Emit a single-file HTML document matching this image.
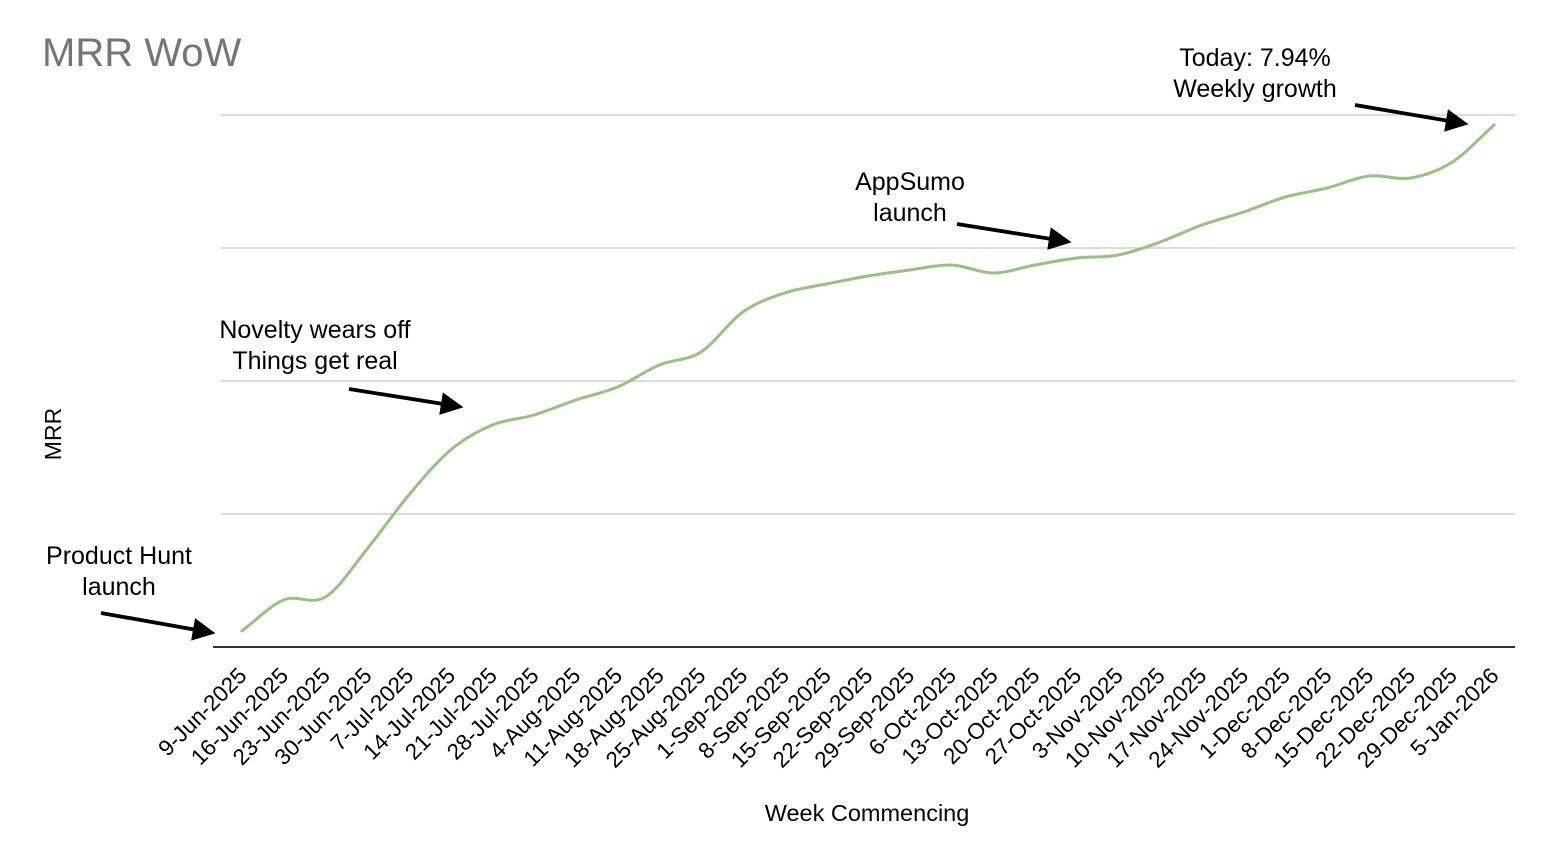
<!DOCTYPE html>
<html><head><meta charset="utf-8"><style>
html,body{margin:0;padding:0;background:#fff;}
svg{display:block;font-family:"Liberation Sans",Arial,sans-serif;}
</style></head><body>
<svg width="1544" height="846" viewBox="0 0 1544 846" xmlns="http://www.w3.org/2000/svg">
<defs><marker id="ah" markerWidth="6" markerHeight="6" refX="4" refY="3" orient="auto" markerUnits="strokeWidth"><path d="M0,0 L6,3 L0,6 z" fill="#000"/></marker></defs>
<text x="42" y="66" font-size="40" fill="#757575">MRR WoW</text>
<g stroke="#c8c8c8" stroke-width="1.3">
<line x1="221" y1="115" x2="1515" y2="115"/>
<line x1="221" y1="248" x2="1515" y2="248"/>
<line x1="221" y1="381" x2="1515" y2="381"/>
<line x1="221" y1="514" x2="1515" y2="514"/>
</g>
<line x1="213" y1="647" x2="1515" y2="647" stroke="#333" stroke-width="2"/>
<path fill="none" stroke="#93c47d" stroke-width="3" stroke-linejoin="round" stroke-linecap="round" d="M241.9,631 C255.8,620.7 269.7,605.7 283.6,600 S311.5,605.5 325.4,597 S353.2,566 367.1,549 S395,511.5 408.9,495 S436.7,461.7 450.6,450 S478.4,430.8 492.3,425 S520.2,419.2 534.1,415 S561.9,404.7 575.8,400 S603.7,392.8 617.6,387 S645.4,370.8 659.3,365 S687.1,360.8 701,352 S728.9,321.8 742.8,312 S770.6,297.7 784.5,293 S812.4,286.8 826.3,284 S854.1,278.3 868,276 S895.8,271.8 909.7,270 S937.6,264.5 951.5,265 S979.3,273 993.2,273 S1021.1,267.5 1035,265 S1062.8,259.7 1076.7,258 S1104.5,257.7 1118.4,255 S1146.3,247 1160.2,242 S1188,230 1201.9,225 S1229.8,216.7 1243.7,212 S1271.5,201 1285.4,197 S1313.2,191.5 1327.1,188 S1355,177.7 1368.9,176 S1396.7,180.3 1410.6,178 S1438.5,170.8 1452.4,162 S1480.2,137.3 1494.1,125"/>
<g font-size="22.5" fill="#000" text-anchor="end">
<text x="248" y="677" transform="rotate(-45 248 677)">9-Jun-2025</text>
<text x="289.6" y="677" transform="rotate(-45 289.6 677)">16-Jun-2025</text>
<text x="331.4" y="677" transform="rotate(-45 331.4 677)">23-Jun-2025</text>
<text x="373.1" y="677" transform="rotate(-45 373.1 677)">30-Jun-2025</text>
<text x="414.9" y="677" transform="rotate(-45 414.9 677)">7-Jul-2025</text>
<text x="456.6" y="677" transform="rotate(-45 456.6 677)">14-Jul-2025</text>
<text x="498.3" y="677" transform="rotate(-45 498.3 677)">21-Jul-2025</text>
<text x="540.1" y="677" transform="rotate(-45 540.1 677)">28-Jul-2025</text>
<text x="581.8" y="677" transform="rotate(-45 581.8 677)">4-Aug-2025</text>
<text x="623.6" y="677" transform="rotate(-45 623.6 677)">11-Aug-2025</text>
<text x="665.3" y="677" transform="rotate(-45 665.3 677)">18-Aug-2025</text>
<text x="707" y="677" transform="rotate(-45 707 677)">25-Aug-2025</text>
<text x="748.8" y="677" transform="rotate(-45 748.8 677)">1-Sep-2025</text>
<text x="790.5" y="677" transform="rotate(-45 790.5 677)">8-Sep-2025</text>
<text x="832.3" y="677" transform="rotate(-45 832.3 677)">15-Sep-2025</text>
<text x="874" y="677" transform="rotate(-45 874 677)">22-Sep-2025</text>
<text x="915.7" y="677" transform="rotate(-45 915.7 677)">29-Sep-2025</text>
<text x="957.5" y="677" transform="rotate(-45 957.5 677)">6-Oct-2025</text>
<text x="999.2" y="677" transform="rotate(-45 999.2 677)">13-Oct-2025</text>
<text x="1041" y="677" transform="rotate(-45 1041 677)">20-Oct-2025</text>
<text x="1082.7" y="677" transform="rotate(-45 1082.7 677)">27-Oct-2025</text>
<text x="1124.4" y="677" transform="rotate(-45 1124.4 677)">3-Nov-2025</text>
<text x="1166.2" y="677" transform="rotate(-45 1166.2 677)">10-Nov-2025</text>
<text x="1207.9" y="677" transform="rotate(-45 1207.9 677)">17-Nov-2025</text>
<text x="1249.7" y="677" transform="rotate(-45 1249.7 677)">24-Nov-2025</text>
<text x="1291.4" y="677" transform="rotate(-45 1291.4 677)">1-Dec-2025</text>
<text x="1333.1" y="677" transform="rotate(-45 1333.1 677)">8-Dec-2025</text>
<text x="1374.9" y="677" transform="rotate(-45 1374.9 677)">15-Dec-2025</text>
<text x="1416.6" y="677" transform="rotate(-45 1416.6 677)">22-Dec-2025</text>
<text x="1458.4" y="677" transform="rotate(-45 1458.4 677)">29-Dec-2025</text>
<text x="1500.1" y="677" transform="rotate(-45 1500.1 677)">5-Jan-2026</text>
</g>
<text x="61" y="434" font-size="23" transform="rotate(-90 61 434)" text-anchor="middle">MRR</text>
<text x="867" y="821" font-size="23.5" text-anchor="middle">Week Commencing</text>
<g font-size="25" text-anchor="middle" fill="#000">
<text x="119" y="564">Product Hunt</text><text x="119" y="595">launch</text>
<text x="315" y="338">Novelty wears off</text><text x="315" y="369">Things get real</text>
<text x="910" y="190">AppSumo</text><text x="910" y="221">launch</text>
<text x="1255" y="66">Today: 7.94%</text><text x="1255" y="97">Weekly growth</text>
</g>
<g stroke="#000" stroke-width="3.8" marker-end="url(#ah)">
<line x1="101" y1="613" x2="208" y2="632"/>
<line x1="349" y1="389" x2="456" y2="406"/>
<line x1="957" y1="224" x2="1064" y2="241"/>
<line x1="1355" y1="105" x2="1461" y2="123"/>
</g>
</svg>
</body></html>
